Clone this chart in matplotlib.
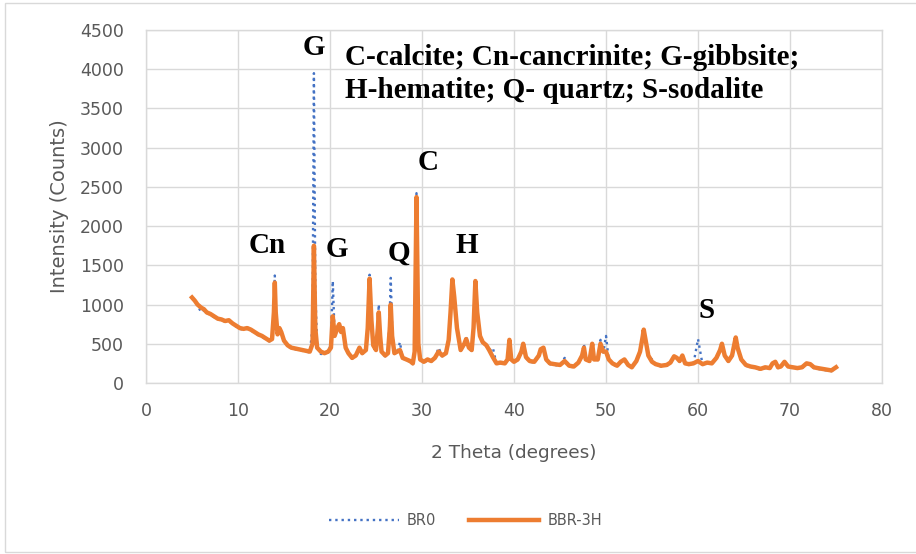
import matplotlib
matplotlib.use("Agg")
import matplotlib.pyplot as plt
from matplotlib.patches import Rectangle

# 2 theta positions (shared by both patterns)
two_theta = [
    5.0, 5.3, 5.6, 6.0, 6.3, 6.6, 7.0, 7.4, 7.8, 8.2,
    8.6, 9.0, 9.4, 9.8, 10.2, 10.6, 11.0, 11.4, 11.8, 12.2,
    12.6, 13.0, 13.4, 13.7, 13.9, 14.0, 14.1, 14.3, 14.5, 14.7,
    15.0, 15.4, 15.8, 16.2, 16.6, 17.0, 17.4, 17.8, 18.1, 18.25,
    18.4, 18.6, 19.0, 19.4, 19.8, 20.1, 20.3, 20.5, 20.8, 21.0,
    21.2, 21.4, 21.7, 22.0, 22.4, 22.8, 23.2, 23.5, 23.9, 24.1,
    24.3, 24.5, 24.7, 25.0, 25.2, 25.3, 25.45, 25.6, 26.0, 26.3,
    26.5, 26.6, 26.75, 27.0, 27.3, 27.6, 27.9, 28.3, 28.7, 29.0,
    29.2, 29.4, 29.6, 29.8, 30.2, 30.6, 31.0, 31.4, 31.8, 32.2,
    32.6, 32.9, 33.1, 33.3, 33.5, 33.8, 34.2, 34.6, 34.8, 35.1,
    35.4, 35.6, 35.8, 36.0, 36.3, 36.6, 37.0, 37.3, 37.7, 38.1,
    38.5, 39.0, 39.3, 39.5, 39.7, 40.0, 40.4, 40.8, 41.0, 41.3,
    41.7, 42.2, 42.7, 42.9, 43.2, 43.5, 43.9, 44.4, 45.0, 45.5,
    46.0, 46.5, 47.0, 47.4, 47.6, 47.8, 48.2, 48.5, 48.7, 49.1,
    49.4, 49.7, 50.0, 50.3, 50.7, 51.2, 51.6, 52.0, 52.4, 52.8,
    53.3, 53.7, 54.0, 54.1, 54.3, 54.6, 55.0, 55.4, 56.0, 56.6,
    57.0, 57.4, 57.7, 58.0, 58.3, 58.6, 59.0, 59.5, 60.0, 60.5,
    61.0, 61.5, 62.0, 62.4, 62.6, 62.9, 63.3, 63.7, 64.0, 64.1,
    64.3, 64.7, 65.2, 65.7, 66.2, 66.8, 67.3, 67.8, 68.1, 68.4,
    68.7, 69.0, 69.4, 69.8, 70.3, 70.8, 71.3, 71.8, 72.2, 72.6,
    73.0, 73.5, 74.0, 74.5, 75.0,
]

bbr_3h = [
    1090, 1050, 1000, 960, 940, 900, 880, 850, 820, 810,
    790, 800, 760, 730, 700, 690, 700, 680, 650, 620,
    600, 570, 540, 560, 900, 1280, 900, 620, 700, 650,
    540, 480, 450, 440, 430, 420, 410, 400, 500, 1750,
    700, 450, 400, 380, 400, 450, 850, 600, 700, 750,
    650, 700, 450, 380, 320, 350, 450, 380, 420, 700,
    1330, 800, 480, 420, 700, 900, 600, 400, 350, 380,
    700, 1000, 600, 380, 400, 420, 320, 300, 280, 250,
    400, 2370, 500, 300, 270, 300, 280, 320, 400, 350,
    380, 550, 900, 1320, 1100, 700, 420, 500, 560, 450,
    420, 700, 1300, 900, 600, 520, 480, 420, 330, 250,
    260, 250, 300, 550, 300, 270, 300, 400, 500, 330,
    280, 270, 350, 430, 450, 300, 250, 240, 230, 280,
    220, 210, 260, 350, 450, 300, 280, 500, 300, 300,
    500, 400, 400, 300, 250, 220, 270, 300, 230, 200,
    280, 400, 600, 680, 550, 350, 270, 240, 220, 230,
    260, 340, 320, 280, 350, 250, 240, 250, 280, 240,
    260, 250, 320, 420, 500, 350, 280, 350, 520, 580,
    450, 300, 230, 210, 200, 180, 200, 190, 250, 270,
    200, 210, 270, 210, 200, 190, 200, 250, 240, 200,
    190, 180, 170, 160, 200,
]

br0 = [
    1080, 1040, 990, 900, 930, 890, 870, 840, 810, 800,
    780, 790, 750, 720, 690, 680, 690, 670, 640, 610,
    590, 560, 530, 550, 950, 1370, 950, 610, 690, 640,
    530, 470, 440, 430, 420, 410, 400, 390, 700, 3950,
    1200, 460, 370, 370, 390, 500, 1300, 620, 690, 740,
    640, 690, 440, 370, 310, 340, 440, 370, 410, 720,
    1380, 800, 470, 410, 750, 1000, 620, 390, 340, 370,
    900, 1340, 700, 370, 390, 520, 310, 290, 270, 240,
    420, 2420, 510, 290, 260, 290, 270, 310, 450, 340,
    370, 540, 890, 1310, 1090, 690, 410, 490, 600, 440,
    410, 690, 1290, 890, 590, 510, 470, 410, 450, 240,
    250, 240, 290, 540, 290, 260, 290, 390, 490, 320,
    270, 260, 340, 420, 440, 290, 240, 230, 220, 320,
    210, 200, 250, 340, 500, 290, 270, 490, 290, 290,
    550, 390, 600, 290, 240, 210, 260, 290, 220, 190,
    270, 390, 590, 670, 540, 340, 300, 230, 210, 220,
    250, 330, 310, 270, 340, 240, 230, 240, 560, 230,
    250, 240, 310, 410, 490, 340, 270, 340, 510, 570,
    440, 290, 220, 200, 190, 170, 190, 180, 240, 260,
    190, 200, 260, 200, 190, 180, 190, 240, 230, 190,
    180, 170, 160, 150, 190,
]

# phase labels: text, 2theta, baseline intensity
peak_labels = ["G", "Cn", "G", "Q", "C", "H", "S"]
label_x = [18.3, 13.2, 20.8, 27.5, 30.65, 34.9, 60.9]
label_y = [4181, 1657, 1606, 1560, 2715, 1657, 829]

legend_lines = ["C-calcite; Cn-cancrinite; G-gibbsite;",
                "H-hematite; Q- quartz; S-sodalite"]
legend_y = [4054, 3633]

GRID = "#d9d9d9"
TXT = "#595959"

fig = plt.figure(figsize=(9.16, 5.54), dpi=100)
ax = fig.add_axes([0.1594, 0.3087, 0.8035, 0.6371])

ax.plot(two_theta, br0, color="#4472C4", linestyle=":", linewidth=1.7, label="BR0")
ax.plot(two_theta, bbr_3h, color="#ED7D31", linewidth=3.2, label="BBR-3H")

ax.set_xlim(0, 80)
ax.set_ylim(0, 4500)
ax.set_xticks(range(0, 81, 10))
ax.set_yticks(range(0, 4501, 500))
ax.grid(True, color=GRID, linewidth=1.0)
ax.set_axisbelow(True)
for s in ax.spines.values():
    s.set_color(GRID)
    s.set_linewidth(1.0)
ax.tick_params(length=0, labelsize=12.5, colors=TXT)
ax.tick_params(axis="x", pad=14)
ax.tick_params(axis="y", pad=16)

ax.set_xlabel("2 Theta (degrees)", fontsize=13.3, color=TXT, labelpad=17)
ax.set_ylabel("Intensity (Counts)", fontsize=14, color=TXT, labelpad=8)

for t, x, y in zip(peak_labels, label_x, label_y):
    ax.text(x, y, t, family="Liberation Serif", fontweight="bold", fontsize=21,
            ha="center", va="baseline")
for line, y in zip(legend_lines, legend_y):
    ax.text(21.6, y, line, family="Liberation Serif", fontweight="bold",
            fontsize=21, ha="left", va="baseline")

leg = fig.legend(loc="center", bbox_to_anchor=(0.508, 0.061), ncol=2, frameon=False,
                 fontsize=10.5, handlelength=4.8, handletextpad=0.55,
                 columnspacing=2.3)
for t in leg.get_texts():
    t.set_color(TXT)

fig.patches.append(Rectangle((0.006, 0.004), 1.2, 0.99, transform=fig.transFigure,
                             fill=False, edgecolor=GRID, linewidth=1.0))

fig.savefig("out.png", dpi=100)
